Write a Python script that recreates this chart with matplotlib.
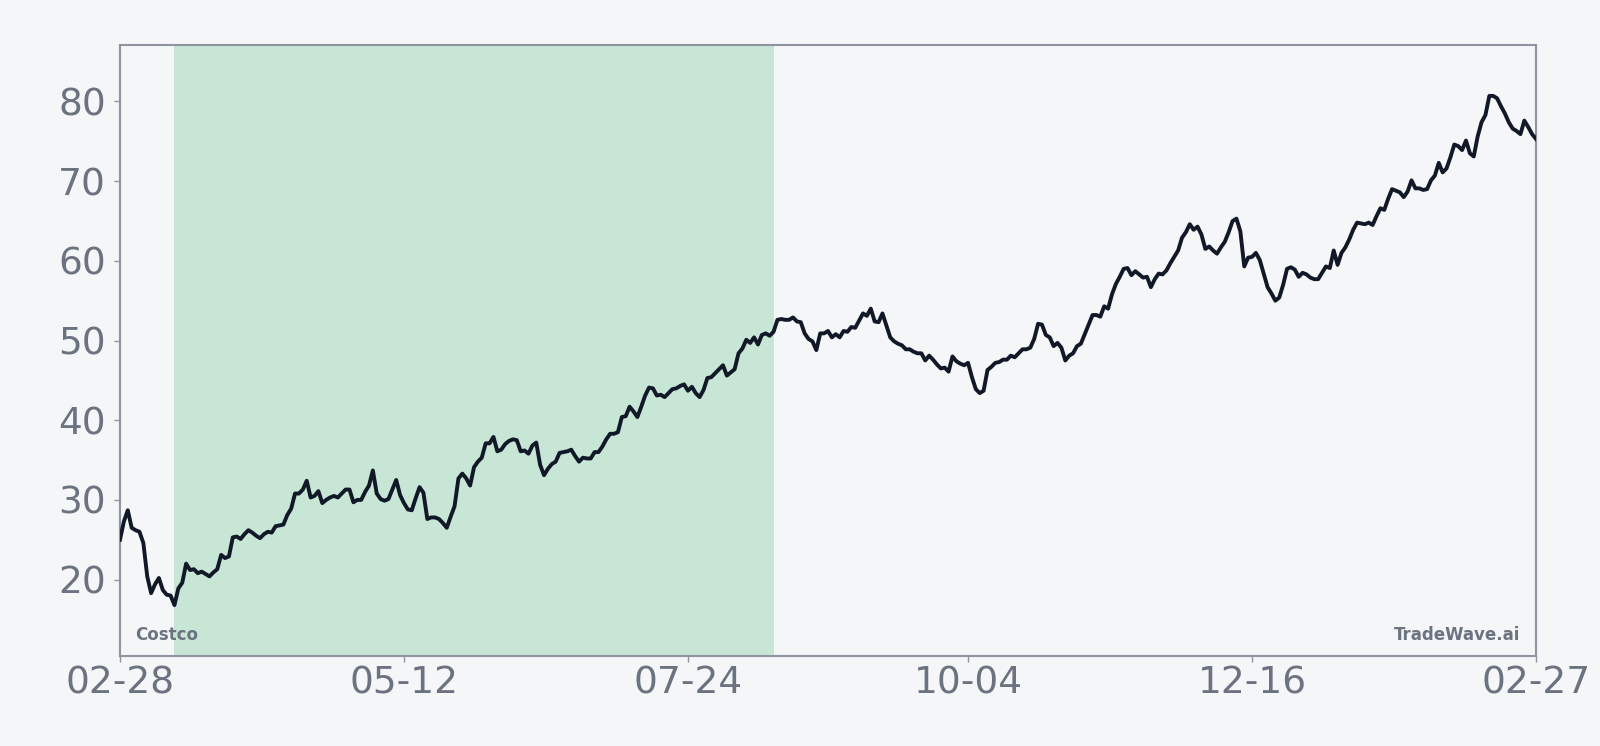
import matplotlib
matplotlib.use("Agg")
import matplotlib.pyplot as plt
import matplotlib.dates as mdates
import pandas as pd

BG = "#f4f6f8"; LINE = "#111827"; GREY = "#6b7280"; SPINE = "#8f94a1"; SHADE = "#c8e6d5"

start_date = "2023-02-28"
# daily closes, one per calendar day (02-28 .. 02-27)
prices = [
    25.0, 27.3, 28.7, 26.5, 26.2, 26.0, 24.6, 20.4, 18.3, 19.4,
    20.2, 18.7, 18.1, 18.0, 16.8, 18.9, 19.6, 22.0, 21.2, 21.3,
    20.8, 21.0, 20.7, 20.4, 20.9, 21.3, 23.1, 22.7, 22.9, 25.3,
    25.4, 25.1, 25.7, 26.2, 25.9, 25.5, 25.2, 25.7, 26.0, 25.9,
    26.7, 26.8, 26.9, 28.1, 28.9, 30.8, 30.8, 31.3, 32.4, 30.3,
    30.5, 31.1, 29.6, 30.0, 30.3, 30.5, 30.3, 30.8, 31.3, 31.3,
    29.7, 30.0, 30.0, 31.0, 31.8, 33.7, 30.8, 30.1, 29.9, 30.1,
    31.3, 32.5, 30.6, 29.6, 28.8, 28.7, 30.2, 31.6, 30.9, 27.6,
    27.8, 27.8, 27.6, 27.1, 26.5, 27.9, 29.2, 32.7, 33.3, 32.7,
    31.8, 34.1, 34.8, 35.3, 37.1, 37.1, 37.9, 36.1, 36.3, 37.0,
    37.4, 37.6, 37.5, 36.1, 36.2, 35.8, 36.8, 37.2, 34.4, 33.1,
    33.9, 34.5, 34.8, 35.9, 36.0, 36.1, 36.3, 35.5, 34.8, 35.3,
    35.2, 35.2, 36.0, 36.0, 36.7, 37.6, 38.3, 38.3, 38.5, 40.4,
    40.5, 41.7, 41.1, 40.4, 41.7, 43.1, 44.1, 44.0, 43.1, 43.2,
    42.9, 43.4, 43.9, 44.0, 44.3, 44.5, 43.7, 44.2, 43.4, 42.9,
    43.8, 45.3, 45.4, 45.9, 46.4, 46.9, 45.6, 46.0, 46.4, 48.4,
    49.0, 50.1, 49.7, 50.4, 49.5, 50.7, 50.9, 50.6, 51.1, 52.6,
    52.7, 52.6, 52.6, 52.9, 52.4, 52.3, 50.9, 50.2, 49.9, 48.8,
    50.9, 50.9, 51.2, 50.4, 50.8, 50.4, 51.2, 51.1, 51.7, 51.6,
    52.5, 53.4, 53.1, 54.0, 52.4, 52.3, 53.4, 51.9, 50.4, 49.9,
    49.6, 49.4, 48.9, 48.9, 48.6, 48.4, 48.4, 47.5, 48.1, 47.6,
    47.0, 46.5, 46.6, 46.1, 48.0, 47.4, 47.1, 46.9, 47.2, 45.4,
    43.9, 43.4, 43.7, 46.3, 46.7, 47.2, 47.3, 47.6, 47.6, 48.1,
    47.9, 48.4, 48.9, 48.9, 49.1, 50.2, 52.1, 52.0, 50.7, 50.4,
    49.3, 49.7, 49.1, 47.5, 48.1, 48.4, 49.3, 49.6, 50.8, 52.0,
    53.2, 53.2, 53.0, 54.3, 54.0, 55.8, 57.1, 58.0, 59.0, 59.1,
    58.2, 58.7, 58.3, 57.9, 58.0, 56.7, 57.7, 58.4, 58.3, 58.8,
    59.7, 60.5, 61.3, 62.9, 63.6, 64.6, 63.9, 64.3, 63.3, 61.5,
    61.8, 61.3, 60.9, 61.7, 62.4, 63.6, 65.0, 65.3, 63.7, 59.3,
    60.4, 60.5, 61.0, 60.1, 58.4, 56.7, 55.9, 55.0, 55.4, 57.0,
    59.0, 59.2, 58.9, 58.0, 58.5, 58.3, 57.9, 57.7, 57.7, 58.5,
    59.3, 59.1, 61.3, 59.5, 61.0, 61.7, 62.7, 63.9, 64.8, 64.7,
    64.6, 64.8, 64.5, 65.6, 66.6, 66.4, 67.8, 69.0, 68.8, 68.6,
    68.0, 68.7, 70.1, 69.1, 69.1, 68.9, 69.0, 70.1, 70.7, 72.3,
    71.1, 71.6, 73.0, 74.6, 74.4, 73.9, 75.1, 73.5, 73.1, 75.6,
    77.4, 78.3, 80.7, 80.7, 80.4, 79.4, 78.5, 77.4, 76.6, 76.3,
    75.9, 77.6, 76.8, 75.9, 75.3,
]
dates = pd.date_range(start_date, periods=len(prices), freq="D")

shade_start, shade_end = "2023-03-14", "2023-08-15"
xtick_dates = ["2023-02-28", "2023-05-12", "2023-07-24", "2023-10-04", "2023-12-16", "2024-02-27"]
yticks = [20, 30, 40, 50, 60, 70, 80]
label_left = "Costco"
label_right = "TradeWave.ai"

fig = plt.figure(figsize=(16, 7.46), dpi=100)
fig.patch.set_facecolor(BG)
ax = fig.add_axes([120 / 1600, 1 - 656 / 746, 1416 / 1600, 611 / 746])
ax.set_facecolor(BG)

ax.axvspan(pd.Timestamp(shade_start), pd.Timestamp(shade_end), color=SHADE, lw=0, zorder=0)
ax.plot(dates, prices, color=LINE, linewidth=2.8, solid_joinstyle="round", zorder=3)

ax.set_xlim(dates[0], dates[-1])
lo, hi = min(prices), max(prices)
pad = (hi - lo) * 0.1
ax.set_ylim(lo - pad, hi + pad)

ax.set_xticks([pd.Timestamp(d) for d in xtick_dates])
ax.xaxis.set_major_formatter(mdates.DateFormatter("%m-%d"))
ax.set_yticks(yticks)
ax.tick_params(colors=SPINE, labelcolor=GREY, labelsize=27, length=4, width=1)
ax.tick_params(axis="x", pad=3)
ax.tick_params(axis="y", pad=6)
for spine in ax.spines.values():
    spine.set_color(SPINE)
    spine.set_linewidth(1.5)

ax.text(0.011, 0.02, label_left, transform=ax.transAxes, color=GREY,
        fontsize=12, fontweight="bold", ha="left", va="bottom")
ax.text(0.989, 0.02, label_right, transform=ax.transAxes, color=GREY,
        fontsize=12, fontweight="bold", ha="right", va="bottom")

fig.savefig("out.png", dpi=100, facecolor=fig.get_facecolor())
plt.close(fig)
